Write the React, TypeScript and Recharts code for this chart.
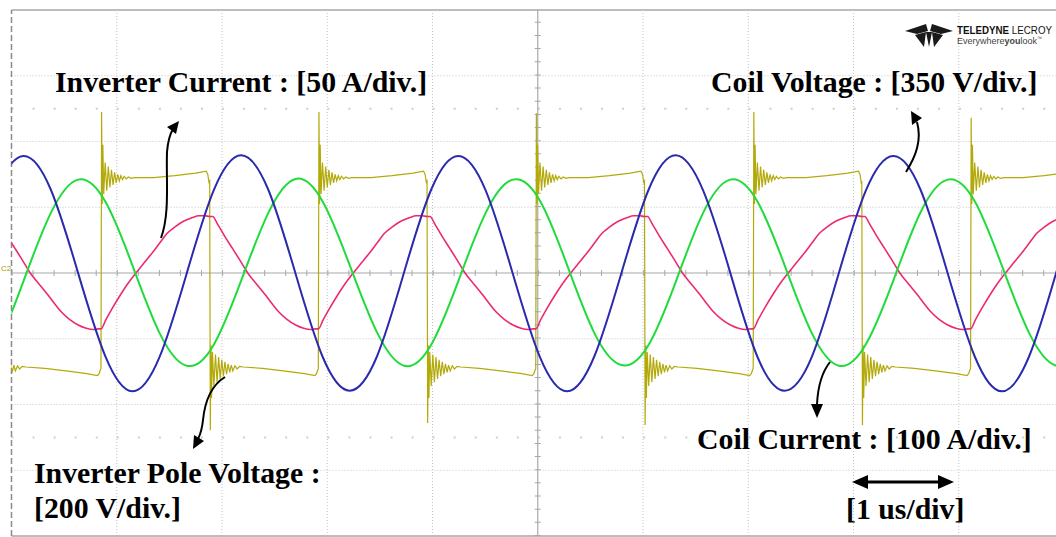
import React from "react";
import { LineChart, Line, XAxis, YAxis, ReferenceLine } from "recharts";

// Scope capture: time in µs (1 µs/div, 10 div), amplitudes in divisions (±4 div).

// coil voltage (blue) and coil current (green), read at a common set of instants
const BASE_T = [
  -0.401, -0.143, 0.115, 0.373, 0.631, 0.89, 1.148, 1.406, 1.664, 1.922, 2.181,
  2.439, 2.697, 2.955, 3.213, 3.472, 3.73, 3.988, 4.246, 4.504, 4.763, 5.021,
  5.279, 5.537, 5.795, 6.054, 6.312, 6.57, 6.828, 7.086, 7.345, 7.603, 7.861,
  8.119, 8.377, 8.636, 8.894, 9.152, 9.41, 9.668, 9.927, 10.185, 10.443,
];
const COIL_VOLTAGE = [
  0.02, 1.26, 1.78, 1.27, 0.01, -1.26, -1.8, -1.28, -0.01, 1.26, 1.79, 1.27, 0,
  -1.27, -1.79, -1.27, 0.01, 1.27, 1.78, 1.26, -0.01, -1.28, -1.8, -1.27, 0,
  1.27, 1.79, 1.26, 0.01, -1.27, -1.79, -1.28, 0, 1.26, 1.78, 1.27, 0, -1.27,
  -1.8, -1.27, 0.01, 1.27, 1.79,
];
const COIL_CURRENT = [
  -1.41, -1.09, -0.12, 0.91, 1.42, 1.09, 0.12, -0.91, -1.41, -1.09, -0.12, 0.91,
  1.43, 1.09, 0.12, -0.9, -1.41, -1.09, -0.12, 0.91, 1.42, 1.1, 0.12, -0.91,
  -1.4, -1.09, -0.13, 0.91, 1.42, 1.09, 0.12, -0.91, -1.41, -1.08, -0.12, 0.92,
  1.42, 1.09, 0.11, -0.91, -1.41, -1.09, -0.12,
];

// switching instants of the inverter leg and the overshoot reached at each
const EDGE_T = [-0.183, 0.85, 1.883, 2.915, 3.948, 4.981, 6.014, 7.047, 8.079, 9.112, 10.145];
const EDGE_SPIKE = [-2.3, 2.45, -2.39, 2.45, -2.28, 2.43, -2.31, 2.45, -2.31, 2.36, -2.3];

// pole voltage (olive) after a rising / falling edge: offset µs, level div
const POLE_RISE_T = [
  0, 0.006, 0.012, 0.018, 0.026, 0.04, 0.055, 0.07, 0.085, 0.1, 0.115, 0.13,
  0.145, 0.16, 0.175, 0.19, 0.205, 0.22, 0.24, 0.26, 0.285, 0.32, 0.5, 0.7, 0.9,
  1.0, 1.015, 1.026,
];
const POLE_RISE_V = [
  -1.45, 2.45, 1.05, 1.95, 1.2, 1.68, 1.25, 1.62, 1.3, 1.57, 1.34, 1.53, 1.37,
  1.5, 1.4, 1.48, 1.42, 1.47, 1.43, 1.46, 1.44, 1.45, 1.45, 1.48, 1.52, 1.55,
  1.5, 1.38,
];
const POLE_FALL_T = POLE_RISE_T;
const POLE_FALL_V = [
  1.4, -2.31, -1.1, -1.9, -1.2, -1.72, -1.24, -1.66, -1.28, -1.61, -1.32, -1.57,
  -1.35, -1.54, -1.38, -1.51, -1.4, -1.49, -1.41, -1.46, -1.42, -1.43, -1.45,
  -1.49, -1.53, -1.56, -1.53, -1.48,
];

// inverter current (pink) after a rising / falling edge
const INV_RISE_T = [
  0, 0.047, 0.114, 0.19, 0.256, 0.332, 0.418, 0.494, 0.56, 0.627, 0.703, 0.788,
  0.864, 0.931, 0.988,
];
const INV_RISE_V = [
  -0.85, -0.71, -0.52, -0.32, -0.16, 0, 0.17, 0.32, 0.46, 0.6, 0.7, 0.79, 0.84,
  0.87, 0.87,
];
const INV_FALL_T = [
  0, 0.028, 0.076, 0.142, 0.218, 0.285, 0.361, 0.446, 0.522, 0.589, 0.655,
  0.731, 0.817, 0.893, 0.959, 1.007,
];
const INV_FALL_V = [
  0.86, 0.86, 0.74, 0.56, 0.37, 0.2, 0, -0.17, -0.32, -0.46, -0.59, -0.7, -0.79,
  -0.84, -0.86, -0.85,
];

const baseData = BASE_T.map((t, i) => ({ t, cv: COIL_VOLTAGE[i], cc: COIL_CURRENT[i] }));

const poleData: { t: number; v: number }[] = [];
const invData: { t: number; v: number }[] = [];
EDGE_T.forEach((t0, i) => {
  const rising = EDGE_SPIKE[i] > 0;
  const pt = rising ? POLE_RISE_T : POLE_FALL_T;
  const pv = rising ? POLE_RISE_V : POLE_FALL_V;
  pt.forEach((dt, j) => poleData.push({ t: t0 + dt, v: j === 1 ? EDGE_SPIKE[i] : pv[j] }));
  const it = rising ? INV_RISE_T : INV_FALL_T;
  const iv = rising ? INV_RISE_V : INV_FALL_V;
  it.forEach((dt, j) => invData.push({ t: t0 + dt, v: iv[j] }));
});

const X_DIVS = [1, 2, 3, 4, 6, 7, 8, 9];
const Y_DIVS = [-3, -2, -1, 1, 2, 3];

const GRID = "#c4c4c4";
const AXIS = "#a8a8a8";

const serif = "'Liberation Serif', 'Times New Roman', serif";
const sans = "'Liberation Sans', Arial, sans-serif";

function Overlay() {
  const txt = { fontFamily: serif, fontWeight: 700, fontSize: 29.8, fill: "#000" };
  return (
    <svg
      width={1056}
      height={537}
      style={{ position: "absolute", left: 0, top: 0, pointerEvents: "none" }}
    >
      {/* LeCroy logo */}
      <g fill="#1a1a1a">
        <polygon points="905,31 926,24 928,31 917,34" />
        <polygon points="953,31 932,24 930,31 941,34" />
        <polygon points="915,35 926,32 924,47" />
        <polygon points="926,32 932,32 929,47" />
        <polygon points="932,32 943,35 934,47" />
      </g>
      <text x={957} y={34} fontFamily={sans} fontSize={10} fill="#111" textLength={95} lengthAdjust="spacingAndGlyphs">
        <tspan fontWeight={700}>TELEDYNE</tspan> LECROY
      </text>
      <text x={957} y={44} fontFamily={sans} fontSize={9} fill="#444">
        Everywhere<tspan fontWeight={700}>you</tspan>look
        <tspan fontSize={5} dy={-4}>™</tspan>
      </text>

      <text x={1} y={271} fontFamily={sans} fontSize={8} fill="#a8a000">
        C2
      </text>

      <text x={55} y={92} {...txt}>Inverter Current : [50 A/div.]</text>
      <text x={711} y={92} {...txt}>Coil Voltage : [350 V/div.]</text>
      <text x={34} y={483} {...txt}>Inverter Pole Voltage :</text>
      <text x={34} y={518} {...txt}>[200 V/div.]</text>
      <text x={697} y={449} {...txt}>Coil Current : [100 A/div.]</text>
      <text x={846} y={519} {...txt}>[1 us/div]</text>

      <g fill="none" stroke="#000" strokeWidth={2}>
        <path d="M161,238 C170,214 166,180 167,152 C168,140 170,134 173,129" />
        <path d="M906,172 C916,156 922,140 917,122" />
        <path d="M225,377 C212,385 205,400 203,420 C202,430 200,435 198,439" />
        <path d="M830,362 C822,372 818,385 817,404" />
        <line x1={864} y1={482} x2={942} y2={482} strokeWidth={3} />
      </g>
      <g fill="#000">
        <polygon points="179,121 176,134 167,127" />
        <polygon points="911,111 922,118 912,125" />
        <polygon points="193,449 194,435 204,441" />
        <polygon points="817,418 811,404 823,404" />
        <polygon points="852,482 868,475 868,489" />
        <polygon points="954,482 938,475 938,489" />
      </g>
    </svg>
  );
}

export default function App() {
  return (
    <div
      style={{
        position: "absolute",
        left: 0,
        top: 0,
        width: 1056,
        height: 537,
        overflow: "hidden",
        background: "#fff",
      }}
    >
      <LineChart
        width={1066}
        height={537}
        margin={{ top: 10, right: 2, bottom: 1, left: 11.5 }}
      >
        <XAxis dataKey="t" type="number" domain={[0, 10]} allowDataOverflow hide />
        <YAxis type="number" domain={[-4, 4]} allowDataOverflow hide />

        {X_DIVS.map((x) => (
          <ReferenceLine key={`vx${x}`} x={x} stroke={GRID} strokeDasharray="1 2" />
        ))}
        {Y_DIVS.map((y) => (
          <ReferenceLine key={`hy${y}`} y={y} stroke={GRID} strokeDasharray="1 2" />
        ))}
        <ReferenceLine y={2.5} stroke="#cfcfcf" strokeWidth={2} strokeDasharray="2 19.056" />
        <ReferenceLine y={-2.5} stroke="#cfcfcf" strokeWidth={2} strokeDasharray="2 19.056" />
        <ReferenceLine y={4} stroke="#bdbdbd" strokeWidth={2} />
        <ReferenceLine y={-4} stroke="#bdbdbd" strokeWidth={2} />
        <ReferenceLine x={0} stroke="#8a8a8a" strokeWidth={1.5} strokeDasharray="6 3" />
        <ReferenceLine x={5} stroke={AXIS} strokeWidth={1.2} />
        <ReferenceLine y={0} stroke={AXIS} strokeWidth={1.2} />
        <ReferenceLine x={5} stroke={AXIS} strokeWidth={6} strokeDasharray="1 12.16" />
        <ReferenceLine y={0} stroke={AXIS} strokeWidth={6} strokeDasharray="1 20.056" />

        <Line
          data={poleData}
          dataKey="v"
          type="linear"
          stroke="#b3aa0a"
          strokeWidth={1.2}
          dot={false}
          activeDot={false}
          isAnimationActive={false}
        />
        <Line
          data={invData}
          dataKey="v"
          type="monotone"
          stroke="#ec2a74"
          strokeWidth={1.6}
          dot={false}
          activeDot={false}
          isAnimationActive={false}
        />
        <Line
          data={baseData}
          dataKey="cc"
          type="natural"
          stroke="#1fdc3a"
          strokeWidth={2}
          dot={false}
          activeDot={false}
          isAnimationActive={false}
        />
        <Line
          data={baseData}
          dataKey="cv"
          type="natural"
          stroke="#2a2aae"
          strokeWidth={2}
          dot={false}
          activeDot={false}
          isAnimationActive={false}
        />
      </LineChart>
      <Overlay />
    </div>
  );
}
